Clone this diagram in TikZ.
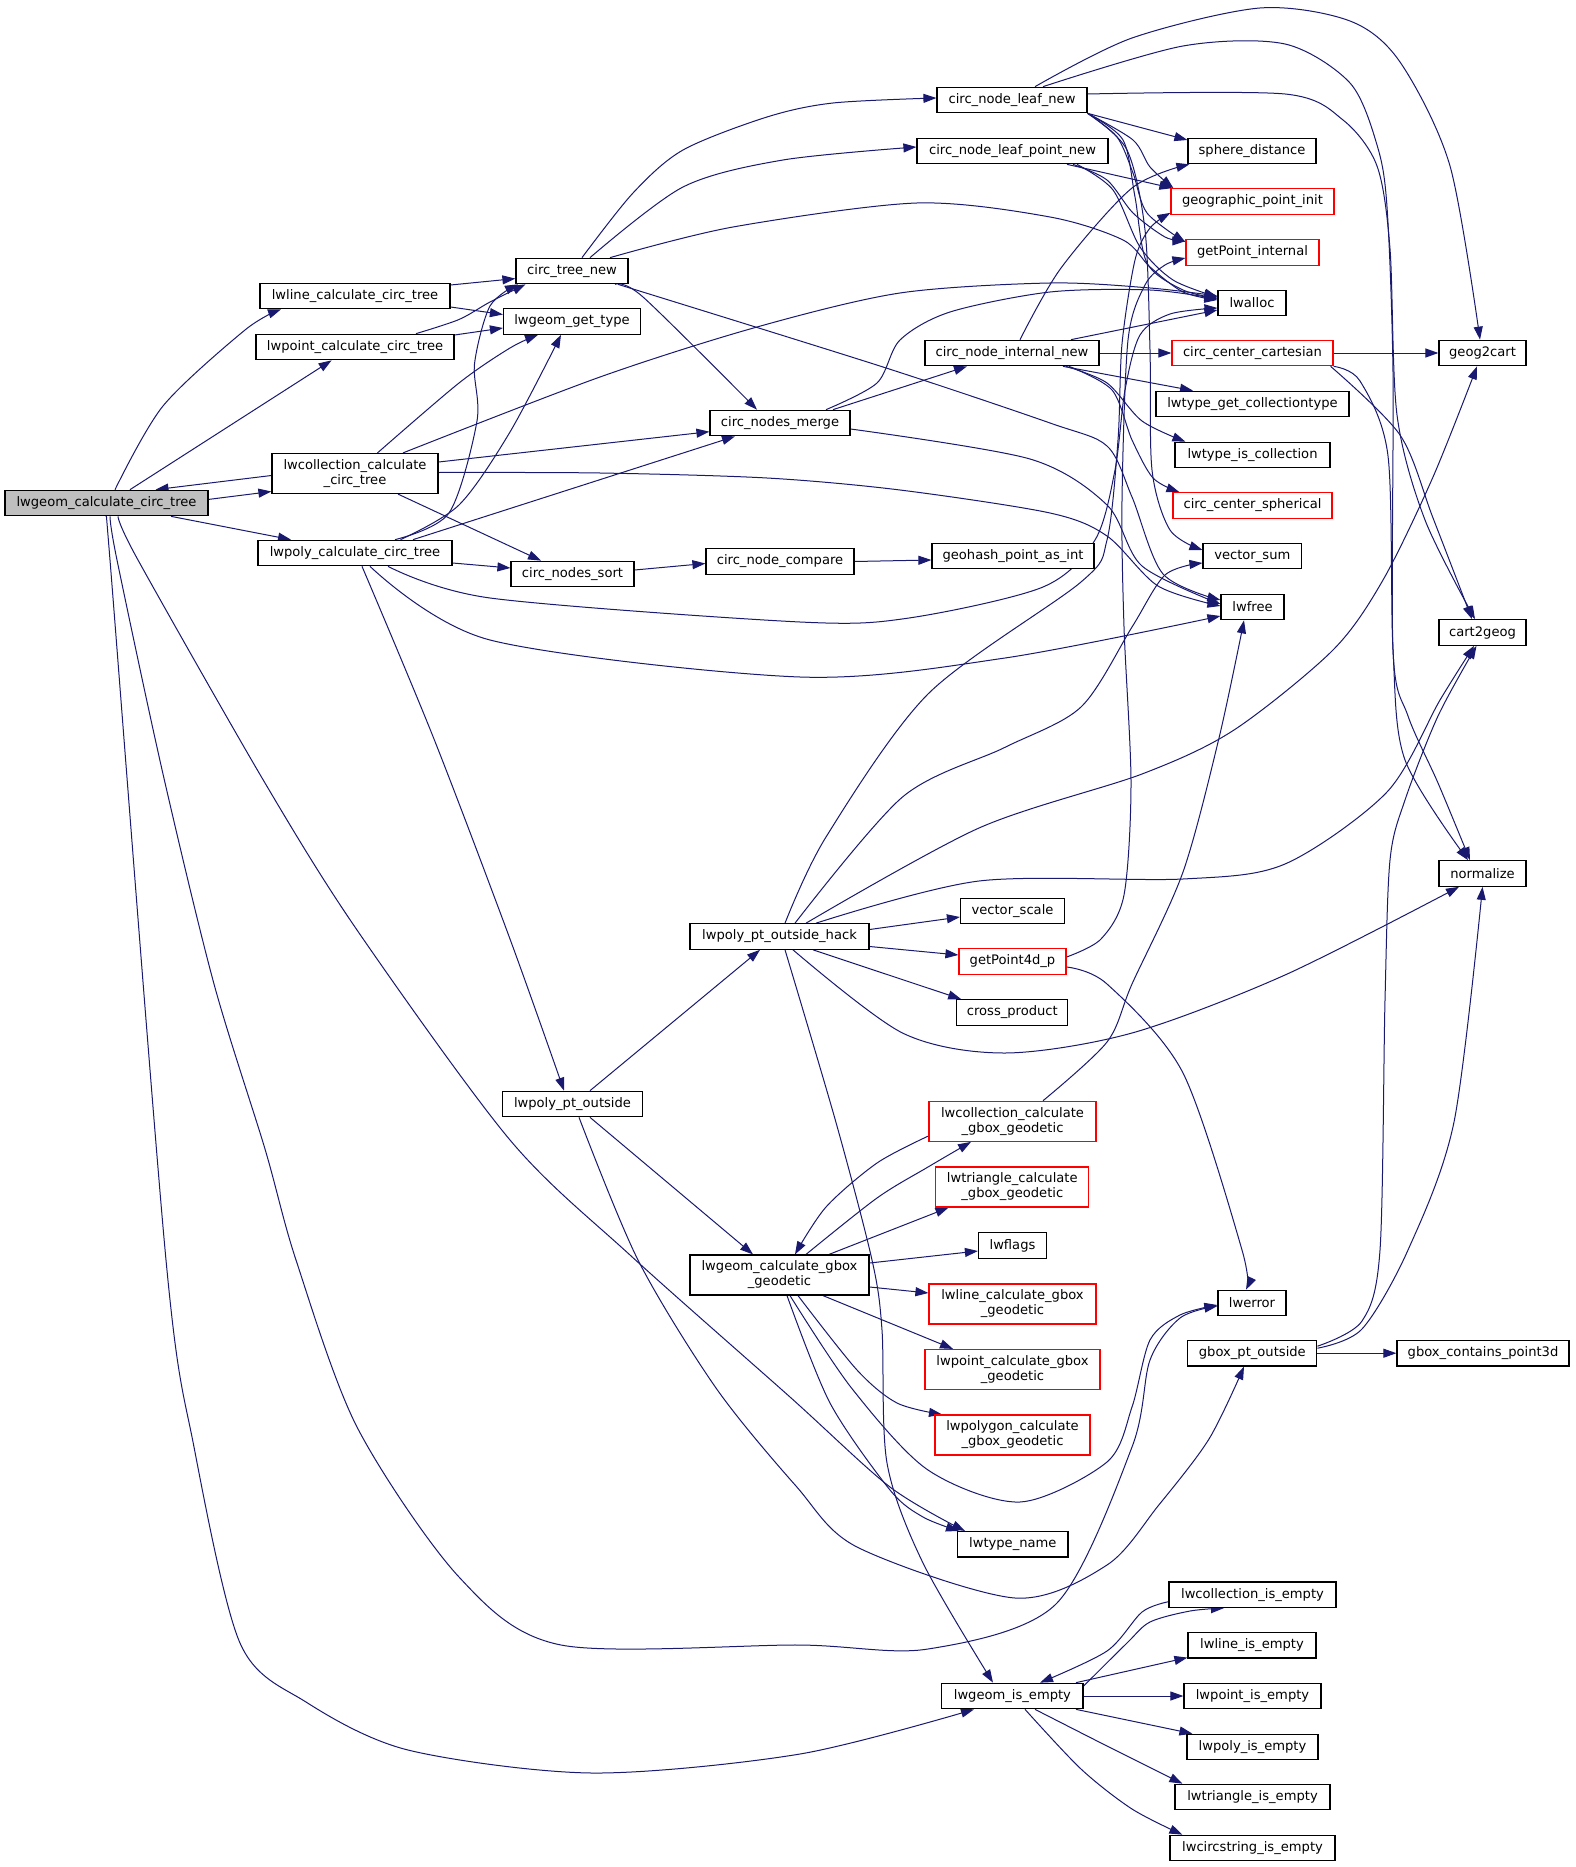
\documentclass[tikz,border=0pt]{standalone}
\usepackage{fontspec}
\setmainfont{DejaVu Sans}
\usetikzlibrary{arrows.meta}
\definecolor{edgeblue}{HTML}{191970}
\definecolor{rootgray}{HTML}{BFBFBF}
\pgfdeclarelayer{bg}
\pgfsetlayers{bg,main}
\begin{document}
\begin{tikzpicture}[x=1pt,y=-1pt,
  fn/.style={draw=black, line width=1.2pt, fill=white, inner sep=0pt, minimum height=25.5pt, font=\fontsize{13.1}{15}\selectfont, text=black},
  fn2/.style={fn, minimum height=40pt, align=center},
  trunc/.style={draw=red},
  cl/.style={draw=edgeblue, line width=1pt, -{Triangle[length=13pt,width=9pt]}},
  sm/.style={smooth, tension=0.5}]
\useasboundingbox (0,0) rectangle (1575,1867);
% nodes
\node[fn, minimum width=203pt, fill=rootgray] (A) at (106.5,503) {lwgeom\_calculate\_circ\_tree};
\node[fn, minimum width=190pt] (B) at (355,296) {lwline\_calculate\_circ\_tree};
\node[fn, minimum width=198pt] (C) at (355,347) {lwpoint\_calculate\_circ\_tree};
\node[fn2, minimum width=166pt] (D) at (355,473.5) {lwcollection\_calculate\\\_circ\_tree};
\node[fn, minimum width=194pt] (E) at (355,553) {lwpoly\_calculate\_circ\_tree};
\node[fn, minimum width=112pt] (F) at (572,271) {circ\_tree\_new};
\node[fn, minimum width=137pt] (G) at (572,321.5) {lwgeom\_get\_type};
\node[fn, minimum width=140pt] (H) at (780,423) {circ\_nodes\_merge};
\node[fn, minimum width=123pt] (I) at (572.5,574) {circ\_nodes\_sort};
\node[fn, minimum width=148pt] (J) at (780,561.5) {circ\_node\_compare};
\node[fn, minimum width=150pt] (K) at (1012,100) {circ\_node\_leaf\_new};
\node[fn, minimum width=191pt] (L) at (1012.5,151) {circ\_node\_leaf\_point\_new};
\node[fn, minimum width=174pt] (M) at (1012,353) {circ\_node\_internal\_new};
\node[fn, minimum width=162pt] (N) at (1013,556) {geohash\_point\_as\_int};
\node[fn, minimum width=128pt] (O) at (1252,151) {sphere\_distance};
\node[fn, trunc, minimum width=163pt] (P) at (1252.5,201.5) {geographic\_point\_init};
\node[fn, trunc, minimum width=133pt] (Q) at (1252.5,252.5) {getPoint\_internal};
\node[fn, minimum width=68pt] (R) at (1252,303) {lwalloc};
\node[fn, trunc, minimum width=161pt] (S) at (1252.5,353) {circ\_center\_cartesian};
\node[fn, minimum width=193pt] (T) at (1252.5,404) {lwtype\_get\_collectiontype};
\node[fn, minimum width=155pt] (U) at (1252.5,455) {lwtype\_is\_collection};
\node[fn, trunc, minimum width=159pt] (V) at (1252.5,505.5) {circ\_center\_spherical};
\node[fn, minimum width=98.5pt] (W) at (1252.3,556) {vector\_sum};
\node[fn, minimum width=63pt] (X) at (1252.5,607) {lwfree};
\node[fn, minimum width=87pt] (Y) at (1482.5,353) {geog2cart};
\node[fn, minimum width=87pt] (Z) at (1482.5,632.5) {cart2geog};
\node[fn, minimum width=87pt] (AA) at (1482.5,873.5) {normalize};
\node[fn, minimum width=179pt] (BB) at (779.5,936.5) {lwpoly\_pt\_outside\_hack};
\node[fn, minimum width=104pt] (CC) at (1012.5,911) {vector\_scale};
\node[fn, trunc, minimum width=107pt] (DD) at (1012.5,961.5) {getPoint4d\_p};
\node[fn, minimum width=111pt] (EE) at (1012.3,1012.5) {cross\_product};
\node[fn, minimum width=140pt] (FF) at (572.5,1104) {lwpoly\_pt\_outside};
\node[fn2, trunc, minimum width=167pt] (GG) at (1012.5,1121.3) {lwcollection\_calculate\\\_gbox\_geodetic};
\node[fn2, trunc, minimum width=153pt] (HH) at (1012.3,1187) {lwtriangle\_calculate\\\_gbox\_geodetic};
\node[fn, minimum width=68pt] (II) at (1012.5,1245.5) {lwflags};
\node[fn2, minimum width=179pt] (JJ) at (779.5,1275) {lwgeom\_calculate\_gbox\\\_geodetic};
\node[fn2, trunc, minimum width=167pt] (KK) at (1012.5,1304) {lwline\_calculate\_gbox\\\_geodetic};
\node[fn2, trunc, minimum width=175pt] (LL) at (1012.5,1369.5) {lwpoint\_calculate\_gbox\\\_geodetic};
\node[fn2, trunc, minimum width=155pt] (MM) at (1012.5,1435) {lwpolygon\_calculate\\\_gbox\_geodetic};
\node[fn, minimum width=68pt] (NN) at (1252,1303) {lwerror};
\node[fn, minimum width=129pt] (OO) at (1252.3,1353.2) {gbox\_pt\_outside};
\node[fn, minimum width=172pt] (PP) at (1483,1353.2) {gbox\_contains\_point3d};
\node[fn, minimum width=110.4pt] (QQ) at (1012.8,1544.3) {lwtype\_name};
\node[fn, minimum width=141.3pt] (RR) at (1012.4,1696) {lwgeom\_is\_empty};
\node[fn, minimum width=167pt] (SS) at (1252.5,1594.7) {lwcollection\_is\_empty};
\node[fn, minimum width=128pt] (TT) at (1252,1645.2) {lwline\_is\_empty};
\node[fn, minimum width=137pt] (UU) at (1252.5,1696) {lwpoint\_is\_empty};
\node[fn, minimum width=131pt] (VV) at (1252.5,1747) {lwpoly\_is\_empty};
\node[fn, minimum width=155pt] (WW) at (1252.5,1797) {lwtriangle\_is\_empty};
\node[fn, minimum width=165pt] (XX) at (1252.5,1848) {lwcircstring\_is\_empty};

\begin{pgfonlayer}{bg}
\fill[white] (0,0) rectangle (1575,1867);
% A
\draw[cl] plot[sm] coordinates {([xshift=8.5pt]A.north) (163,406) (245,330) ([xshift=-74pt]B.south)};
\draw[cl] ([xshift=23.5pt]A.north) -- ([xshift=-23.4pt]C.south);
\draw[cl] ([yshift=3.6pt]A.east) -- ([yshift=-18pt]D.west);
\draw[cl] ([xshift=64.5pt]A.south) -- ([xshift=-64pt]E.north);
\draw[cl] ([yshift=-2pt]D.west) -- ([xshift=49pt]A.north);
\draw[cl] plot[sm] coordinates {([xshift=11.5pt]A.south) (138,560) (265,783) (357,930) (510,1140) (630,1255) (790,1397) (890,1487) ([xshift=-47.8pt]QQ.north)};
\draw[cl] plot[sm] coordinates {([xshift=3.5pt]A.south) (117,560) (163,774) (214,984) (265,1149) (296,1260) (357,1427) (459,1577) (561,1645) (800,1645) (928,1649) (1056,1604) (1132,1447) (1150,1360) (1180,1318) ([yshift=-3pt]NN.west)};
\draw[cl] plot[sm] coordinates {([xshift=-0.5pt]A.south) (110,560) (166,1260) (194,1447) (240,1643) (306,1702) (408,1750) (592,1773) (800,1754) ([xshift=-38.4pt]RR.south)};
% B, C
\draw[cl] ([yshift=11pt]B.east) -- ([yshift=-7.6pt]F.west);
\draw[cl] ([yshift=-11pt]B.east) -- ([yshift=7pt]G.west);
\draw[cl] plot[sm] coordinates {([xshift=61pt]C.north) (459,319.5) (490,302) ([xshift=-46.5pt]F.south)};
\draw[cl] ([yshift=12pt]C.east) -- ([yshift=-6.5pt]G.west);
% D
\draw[cl] plot[sm] coordinates {([xshift=22.5pt]D.north) (459,383) (510,348) ([xshift=-34pt]G.south)};
\draw[cl] ([yshift=11.5pt]D.east) -- ([yshift=-8.7pt]H.west);
\draw[cl] ([xshift=43pt]D.south) -- ([xshift=-31.5pt]I.north);
\draw[cl] plot[sm] coordinates {([xshift=48pt]D.north) (600,377) (757,327) (900,293) (1050,283) (1150,288) ([yshift=7pt]R.west)};
\draw[cl] plot[sm] coordinates {([yshift=1pt]D.east) (600,473) (767,478) (900,490) (1050,513) (1107,536) (1158,586) ([yshift=1pt]X.west)};
% E
\draw[cl] plot[sm] coordinates {([xshift=40pt]E.north) (449,513) (477,421) (474.5,364) (490,306) ([xshift=-54pt]F.south)};
\draw[cl] plot[sm] coordinates {([xshift=45.5pt]E.north) (459,505) (510,432) ([xshift=-11pt]G.south)};
\draw[cl] ([xshift=58pt]E.north) -- ([xshift=-45pt]H.south);
\draw[cl] ([yshift=-10pt]E.east) -- ([yshift=6pt]I.west);
\draw[cl] plot[sm] coordinates {([xshift=33pt]E.south) (490,598) (800,622) (909,618) (1043,587) (1095,540) (1115,470) (1125,390) (1140,335) (1170,314) ([yshift=-5pt]R.west)};
\draw[cl] plot[sm] coordinates {([xshift=15pt]E.south) (490,640) (800,677) (1005,658) ([yshift=-9pt]X.west)};
\draw[cl] plot[sm] coordinates {([xshift=7pt]E.south) (434,739) (510,939) ([xshift=-8.5pt]FF.north)};
% F
\draw[cl] plot[sm] coordinates {([xshift=10pt]F.north) (633,193) (683,150) (767,117) (833,103) ([yshift=2pt]K.west)};
\draw[cl] plot[sm] coordinates {([xshift=18pt]F.north) (683,187) (783,160) ([yshift=4pt]L.west)};
\draw[cl] plot[sm] coordinates {([xshift=38pt]F.north) (733,227) (917,203) (1050,217) (1123,240) (1150,267) (1183,292) ([yshift=3pt]R.west)};
\draw[cl] plot[sm] coordinates {([xshift=43pt]F.south) (643,297) ([xshift=-23pt]H.north)};
\draw[cl] plot[sm] coordinates {([xshift=46pt]F.south) (883,367) (1050,423) (1107,446) (1132,497) (1163,574) ([yshift=7pt]X.west)};
% H, I, J
\draw[cl] ([xshift=53pt]H.north) -- ([xshift=-45pt]M.south);
\draw[cl] plot[sm] coordinates {([xshift=46pt]H.north) (877,383) (900,340) (950,312) (1050,292) (1150,290) ([yshift=4pt]R.west)};
\draw[cl] plot[sm] coordinates {([yshift=-6pt]H.east) (1030,459) (1107,505) (1142,566) ([yshift=3pt]X.west)};
\draw[cl] ([yshift=4pt]I.east) -- ([yshift=-2pt]J.west);
\draw[cl] (J.east) -- ([yshift=-4pt]N.west);
% K
\draw[cl] (K.south east) -- ([yshift=11pt]O.west);
\draw[cl] plot[sm] coordinates {(K.south east) (1133,140) (1150,167) ([xshift=3pt]P.north west)};
\draw[cl] plot[sm] coordinates {(K.south east) (1117,137) (1133,173) (1147,213) ([yshift=-3pt]Q.north west)};
\draw[cl] plot[sm] coordinates {(K.south east) (1123,140) (1135,197) (1147,263) (1183,290) ([yshift=5pt]R.west)};
\draw[cl] plot[sm] coordinates {(K.south east) (1127,150) (1145,230) (1150,350) (1152,470) (1170,530) ([yshift=6pt]W.west)};
\draw[cl] plot[sm] coordinates {([xshift=23pt]K.north) (1132,38) (1260,8) (1350,21) (1400,62) (1450,166) ([xshift=-2.5pt]Y.north)};
\draw[cl] plot[sm] coordinates {([xshift=31pt]K.north) (1183,46) (1285,44) (1350,83) (1377,145) (1387,207) (1393,373) (1393,650) (1408,716) (1438,783) ([xshift=-12.5pt]AA.north)};
\draw[cl] plot[sm] coordinates {([yshift=6pt]K.east) (1285,94) (1343,120) (1377,166) (1390,249) (1397,415) (1425,520) ([xshift=-7.5pt]Z.north)};
% L
\draw[cl] ([xshift=54.5pt]L.south) -- ([xshift=2pt]P.north west);
\draw[cl] plot[sm] coordinates {([xshift=60.5pt]L.south) (1107,180) (1133,213) (1165,237) ([yshift=-2pt]Q.north west)};
\draw[cl] plot[sm] coordinates {([xshift=64.5pt]L.south) (1113,190) (1140,247) (1173,280) ([yshift=6pt]R.west)};
% M
\draw[cl] plot[sm] coordinates {([xshift=8pt]M.north) (1061,268) (1132,188) ([xshift=2pt]O.south west)};
\draw[cl] ([xshift=59pt]M.north) -- ([yshift=-7pt]R.west);
\draw[cl] (M.east) -- (S.west);
\draw[cl] ([xshift=51pt]M.south) -- ([xshift=-59.5pt]T.north);
\draw[cl] plot[sm] coordinates {([xshift=54pt]M.south) (1107,383) (1142,421) ([xshift=11pt]U.north west)};
\draw[cl] plot[sm] coordinates {([xshift=57pt]M.south) (1112,390) (1132,440) (1153,478) ([xshift=7pt]V.north west)};
% S
\draw[cl] (S.east) -- (Y.west);
\draw[cl] plot[sm] coordinates {([xshift=-3pt]S.south east) (1400,435) (1433,518) ([xshift=-10.5pt]Z.north)};
\draw[cl] plot[sm] coordinates {(S.south east) (1360,381) (1388,456) (1393,650) (1405,760) ([xshift=-14.5pt]AA.north)};
% BB
\draw[cl] plot[sm] coordinates {([xshift=5.5pt]BB.north) (826,837) (928,694) (1081,582) (1107,540) (1118,440) (1122,344) (1135,260) (1150,228) ([yshift=2pt]P.south west)};
\draw[cl] plot[sm] coordinates {([xshift=15.5pt]BB.north) (902.5,797) (1004.6,747.5) (1081,707) (1132,627) (1165,575) ([yshift=-7pt]W.west)};
\draw[cl] plot[sm] coordinates {([xshift=26.5pt]BB.north) (979,828) (1142,774) (1234,730) (1333,650) (1383,580) (1433,477) ([xshift=-5.5pt]Y.south)};
\draw[cl] plot[sm] coordinates {([xshift=36.5pt]BB.north) (979,881) (1183,879) (1285,864) (1387,792) (1440,700) ([xshift=-8.5pt]Z.south)};
\draw[cl] ([yshift=7pt]BB.east) -- ([yshift=-6pt]CC.west);
\draw[cl] ([yshift=-10pt]BB.east) -- ([yshift=6.5pt]DD.west);
\draw[cl] ([xshift=33.5pt]BB.south) -- ([xshift=5pt]EE.north west);
\draw[cl] plot[sm] coordinates {([xshift=13.5pt]BB.south) (902.5,1033) (1004.6,1053) (1132,1033) (1285,975) ([xshift=-23.5pt]AA.south)};
\draw[cl] plot[sm] coordinates {([xshift=5.5pt]BB.south) (836,1122.5) (872,1260) (882,1330) (887,1463) (923,1563) ([xshift=-19.4pt]RR.north)};
% DD
\draw[cl] plot[sm] coordinates {([yshift=4.5pt]DD.east) (1101,939) (1124,895) (1131,783) (1124,627) (1122,500) (1128,340) (1145,285) (1165,265) ([yshift=-5.5pt]Q.west)};
\draw[cl] plot[sm] coordinates {([yshift=-5.5pt]DD.east) (1107,984) (1183,1073) (1242,1250) ([xshift=-6pt]NN.north)};
% GG
\draw[cl] plot[sm] coordinates {([yshift=-14.7pt]GG.west) (877,1163) (826,1207) ([xshift=15.5pt]JJ.north)};
\draw[cl] plot[sm] coordinates {([xshift=30.5pt]GG.north) (1107,1042) (1132,984) (1183,872) (1219,738) ([xshift=-8.5pt]X.south)};
% FF
\draw[cl] ([xshift=17.5pt]FF.north) -- ([xshift=-19.5pt]BB.south);
\draw[cl] ([xshift=17.5pt]FF.south) -- ([xshift=-26.5pt]JJ.north);
\draw[cl] plot[sm] coordinates {([xshift=6.5pt]FF.south) (638,1260) (716,1388) (796,1486) (857,1547) (1015,1598) (1107,1565) (1158,1506) (1209,1439) ([xshift=-8.3pt]OO.south)};
% JJ
\draw[cl] plot[sm] coordinates {([xshift=26.5pt]JJ.north) (877,1198) (928,1167) ([xshift=-41.5pt]GG.south)};
\draw[cl] ([xshift=49.5pt]JJ.north) -- ([xshift=-63.8pt]HH.south);
\draw[cl] ([yshift=12pt]JJ.east) -- ([yshift=-5.5pt]II.west);
\draw[cl] ([yshift=-12pt]JJ.east) -- ([yshift=11pt]KK.west);
\draw[cl] ([xshift=43.5pt]JJ.south) -- ([xshift=-59.5pt]LL.north);
\draw[cl] plot[sm] coordinates {([xshift=18.5pt]JJ.south) (857,1370) (897,1403) ([xshift=-70.5pt]MM.north)};
\draw[cl] plot[sm] coordinates {([xshift=7.5pt]JJ.south) (830,1403) (890,1490) (923,1517) ([xshift=2pt]QQ.north west)};
\draw[cl] plot[sm] coordinates {([xshift=10.5pt]JJ.south) (851.5,1388) (928,1470) (1020,1502) (1107,1462) (1132,1407) (1150,1340) (1180,1315) ([yshift=-2pt]NN.west)};
% OO
\draw[cl] (OO.east) -- (PP.west);
\draw[cl] plot[sm] coordinates {([yshift=7pt]OO.east) (1362,1321) (1380,1250) (1385,1000) (1390,860) (1405,800) (1438,716) ([xshift=-6pt]Z.south)};
\draw[cl] plot[sm] coordinates {([yshift=5pt]OO.east) (1362,1329) (1408,1250) (1454,1122) (AA.south)};
% RR
\draw[cl] plot[sm] coordinates {([yshift=10pt]RR.east) (1127,1643) (1150,1622) (1190,1611) ([xshift=-28.5pt]SS.south)};
\draw[cl] plot[sm] coordinates {([yshift=-7pt]SS.west) (1142,1612) (1107,1651) ([xshift=27.6pt]RR.north)};
\draw[cl] ([xshift=63.6pt]RR.north) -- ([yshift=1pt]TT.south west);
\draw[cl] (RR.east) -- (UU.west);
\draw[cl] ([xshift=63.6pt]RR.south) -- ([xshift=6pt]VV.north west);
\draw[cl] plot[sm] coordinates {([xshift=22.6pt]RR.south) (1107,1746) ([xshift=8pt]WW.north west)};
\draw[cl] plot[sm] coordinates {([xshift=12.6pt]RR.south) (1081,1769) (1132,1809) ([xshift=13pt]XX.north west)};
\end{pgfonlayer}
\end{tikzpicture}
\end{document}
